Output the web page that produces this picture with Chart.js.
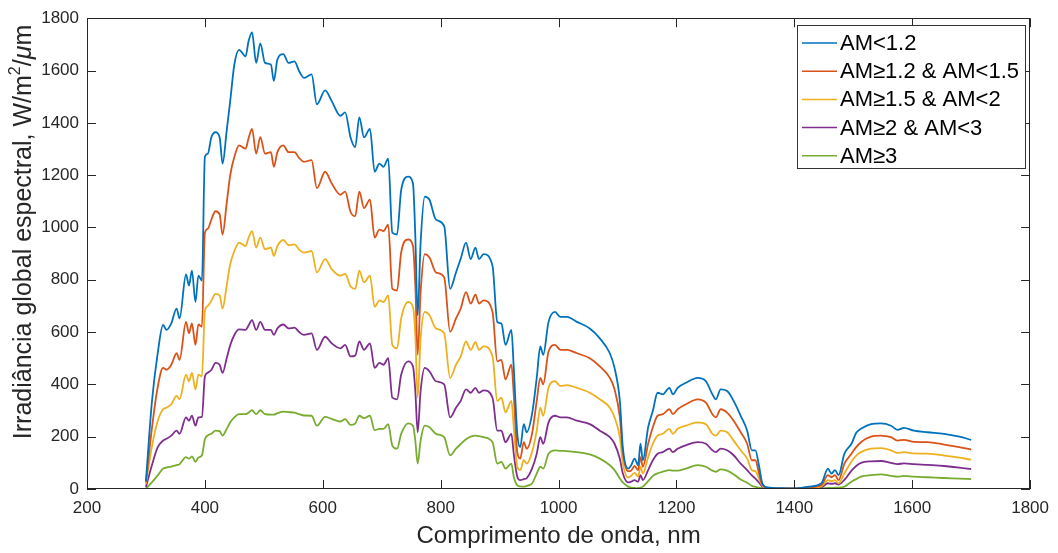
<!DOCTYPE html>
<html>
<head>
<meta charset="utf-8">
<script src="https://cdn.jsdelivr.net/npm/chart.js@4.4.1/dist/chart.umd.min.js"></script>
<style>
    html, body { margin: 0; padding: 0; background: #fff; }
</style>
</head>
<body>
<canvas id="spectrumChart" width="1058" height="553"></canvas>
<script>
const wavelength = [
    300, 310, 320, 329, 335, 343, 352, 357, 368, 373,
    378, 384, 389, 395, 400, 405, 411, 418, 425, 430,
    437, 443, 450, 458, 469, 474, 480, 487, 494, 502,
    512, 517, 523, 533, 542, 552, 560, 568, 581, 590,
    604, 615, 630, 638, 647, 655, 662, 670, 680, 688,
    696, 703, 711, 718, 726, 733, 745, 753, 757, 761,
    766, 773, 781, 792, 806, 816, 826, 834, 843, 851,
    859, 865, 873, 888, 896, 903, 910, 920, 924, 930,
    935, 941, 946, 955, 963, 969, 974, 983, 994, 1003,
    1014, 1031, 1053, 1070, 1087, 1095, 1104, 1109, 1118, 1123,
    1129, 1135, 1139, 1143, 1152, 1160, 1168, 1177, 1188, 1194,
    1202, 1216, 1236, 1250, 1261, 1267, 1275, 1286, 1297, 1309,
    1320, 1328, 1334, 1340, 1346, 1355, 1380, 1400, 1425, 1446,
    1457, 1463, 1469, 1475, 1485, 1497, 1505, 1513, 1530, 1547,
    1564, 1575, 1586, 1603, 1626, 1654, 1680, 1700,
];

const amBelow12 = [
    30, 330, 520, 627, 608, 633, 690, 652, 820, 778,
    835, 715, 816, 797, 1270, 1282, 1345, 1364, 1345, 1244,
    1370, 1484, 1623, 1679, 1654, 1711, 1746, 1629, 1704, 1629,
    1623, 1560, 1642, 1663, 1629, 1635, 1597, 1572, 1585, 1471,
    1524, 1484, 1427, 1440, 1345, 1307, 1421, 1345, 1377, 1213,
    1244, 1232, 1263, 980, 973, 1143, 1194, 1169, 967, 664,
    942, 1118, 1106, 1030, 1005, 765, 828, 880, 942, 879,
    923, 879, 898, 853, 639, 633, 551, 608, 463, 211,
    160, 248, 217, 286, 425, 545, 513, 639, 677, 658,
    658, 639, 614, 576, 519, 463, 337, 160, 78, 90,
    116, 91, 173, 110, 236, 299, 368, 362, 387, 362,
    387, 406, 425, 412, 362, 343, 381, 375, 337, 280,
    223, 148, 148, 90, 20, 6, 3, 2, 9, 22,
    78, 59, 72, 53, 135, 173, 215, 230, 248, 251,
    242, 226, 234, 223, 217, 211, 200, 188,
];

const am12to15 = [
    25, 230, 390, 463, 456, 475, 519, 494, 639, 595,
    633, 551, 629, 620, 980, 995, 1030, 1062, 1050, 973,
    1093, 1200, 1270, 1314, 1301, 1340, 1377, 1282, 1345, 1282,
    1288, 1232, 1288, 1314, 1288, 1288, 1265, 1251, 1257, 1150,
    1213, 1169, 1125, 1137, 1060, 1043, 1137, 1074, 1106, 961,
    992, 986, 1011, 765, 759, 904, 954, 929, 778, 513,
    753, 898, 885, 828, 809, 601, 652, 690, 753, 709,
    743, 709, 721, 677, 488, 494, 419, 475, 362, 141,
    116, 179, 154, 211, 337, 425, 400, 526, 551, 532,
    532, 519, 500, 469, 425, 381, 274, 140, 68, 70,
    88, 72, 122, 85, 173, 236, 280, 286, 305, 286,
    305, 324, 343, 330, 286, 274, 305, 292, 261, 217,
    173, 110, 110, 60, 15, 4, 2, 2, 6, 15,
    53, 45, 53, 34, 97, 135, 160, 179, 200, 204,
    198, 185, 188, 180, 179, 170, 160, 151,
];

const am15to2 = [
    20, 160, 260, 305, 311, 324, 356, 343, 437, 412,
    444, 381, 437, 431, 680, 700, 720, 746, 740, 690,
    778, 860, 910, 942, 929, 960, 986, 923, 961, 917,
    923, 891, 929, 952, 932, 935, 915, 904, 910, 828,
    879, 841, 816, 822, 775, 765, 835, 790, 816, 696,
    721, 715, 740, 551, 538, 652, 715, 696, 589, 349,
    576, 677, 664, 614, 595, 425, 475, 507, 564, 532,
    561, 532, 545, 507, 337, 349, 293, 337, 236, 85,
    72, 110, 97, 141, 223, 311, 280, 387, 412, 394,
    397, 387, 368, 343, 311, 274, 198, 100, 44, 50,
    62, 47, 85, 59, 122, 173, 204, 211, 230, 211,
    230, 242, 255, 248, 211, 204, 223, 217, 185, 148,
    116, 72, 68, 40, 12, 3, 1, 1, 4, 10,
    34, 30, 34, 22, 60, 105, 128, 141, 154, 156,
    148, 138, 141, 136, 135, 128, 120, 112,
];

const am2to3 = [
    8, 90, 160, 185, 192, 204, 223, 211, 274, 261,
    280, 242, 274, 276, 430, 445, 455, 482, 475, 444,
    500, 550, 589, 610, 608, 625, 646, 608, 639, 608,
    608, 589, 614, 629, 614, 617, 600, 589, 595, 532,
    582, 557, 538, 551, 507, 510, 564, 532, 557, 463,
    482, 475, 500, 349, 343, 437, 488, 469, 375, 217,
    375, 463, 450, 412, 400, 274, 311, 337, 381, 368,
    387, 368, 377, 349, 223, 223, 179, 211, 135, 47,
    34, 38, 42, 78, 135, 198, 173, 255, 280, 274,
    274, 261, 248, 223, 198, 173, 116, 60, 25, 28,
    34, 28, 53, 34, 72, 110, 135, 141, 154, 141,
    154, 167, 179, 173, 148, 141, 154, 148, 129, 97,
    72, 52, 40, 25, 8, 2, 1, 1, 3, 6,
    22, 20, 22, 17, 35, 70, 88, 100, 106, 107,
    100, 95, 98, 95, 92, 88, 82, 76,
];

const amAbove3 = [
    2, 25, 52, 78, 82, 86, 91, 95, 122, 116,
    125, 104, 120, 129, 190, 205, 211, 223, 221, 204,
    230, 255, 274, 286, 286, 292, 301, 286, 301, 286,
    284, 284, 290, 296, 294, 292, 286, 281, 280, 242,
    276, 268, 258, 267, 245, 250, 280, 271, 280, 225,
    230, 230, 248, 166, 154, 211, 251, 242, 185, 97,
    185, 242, 236, 211, 198, 129, 154, 172, 190, 200,
    204, 202, 198, 179, 97, 104, 78, 97, 47, 14,
    10, 9, 12, 21, 59, 85, 78, 135, 148, 146,
    145, 141, 132, 116, 91, 72, 40, 25, 9, 5,
    4, 3, 5, 9, 30, 50, 60, 66, 72, 70,
    70, 78, 91, 85, 70, 66, 75, 70, 56, 36,
    24, 12, 8, 5, 2, 1, 0, 0, 1, 2,
    4, 4, 5, 5, 9, 28, 38, 47, 53, 56,
    50, 47, 50, 47, 45, 42, 40, 38,
];

const seriesLabels = ['AM<1.2', 'AM\u22651.2 & AM<1.5', 'AM\u22651.5 & AM<2', 'AM\u22652 & AM<3', 'AM\u22653'];
const seriesColors = ['#0072BD', '#D95319', '#EDB120', '#7E2F8E', '#77AC30'];
const seriesValues = [amBelow12, am12to15, am15to2, am2to3, amAbove3];

const xTickValues = [200, 400, 600, 800, 1000, 1200, 1400, 1600, 1800];
const yTickValues = [0, 200, 400, 600, 800, 1000, 1200, 1400, 1600, 1800];

const fontFamily = "'Liberation Sans', Arial, Helvetica, sans-serif";
const axisColor = '#262626';

// inward ticks + closed box, like the original figure
const axisBox = {
    id: 'axisBox',
    afterDatasetsDraw(chart) {
        const { ctx, chartArea: area, scales: { x, y } } = chart;
        const tick = 9;

        ctx.save();
        ctx.strokeStyle = axisColor;
        ctx.lineWidth = 1;
        ctx.beginPath();
        x.ticks.forEach((t) => {
            const px = Math.round(x.getPixelForValue(t.value)) + 0.5;
            ctx.moveTo(px, area.bottom);
            ctx.lineTo(px, area.bottom - tick);
            ctx.moveTo(px, area.top);
            ctx.lineTo(px, area.top + tick);
        });
        y.ticks.forEach((t) => {
            const py = Math.round(y.getPixelForValue(t.value)) + 0.5;
            ctx.moveTo(area.left, py);
            ctx.lineTo(area.left + tick, py);
            ctx.moveTo(area.right, py);
            ctx.lineTo(area.right - tick, py);
        });
        ctx.stroke();
        ctx.strokeRect(Math.round(area.left) + 0.5, Math.round(area.top) + 0.5,
            Math.round(area.right - area.left) - 1, Math.round(area.bottom - area.top) - 1);
        ctx.restore();
    },
};

// y title with superscript and italic mu
const yTitle = {
    id: 'yTitle',
    afterDraw(chart) {
        const { ctx } = chart;
        const base = `25px ${fontFamily}`;
        const parts = [
            { text: 'Irradi\u00e2ncia global espectral, W/m', font: base, dy: 0 },
            { text: '2', font: `16px ${fontFamily}`, dy: -8 },
            { text: '/', font: base, dy: 0 },
            { text: '\u03bc', font: `italic 25px ${fontFamily}`, dy: 0 },
            { text: 'm', font: base, dy: 0 },
        ];

        ctx.save();
        ctx.translate(24, 232);
        ctx.rotate(-Math.PI / 2);
        ctx.fillStyle = axisColor;
        ctx.textBaseline = 'middle';
        ctx.textAlign = 'left';

        let total = 0;
        parts.forEach((p) => {
            ctx.font = p.font;
            p.w = ctx.measureText(p.text).width;
            total += p.w;
        });

        let cx = -total / 2;
        parts.forEach((p) => {
            ctx.font = p.font;
            ctx.fillText(p.text, cx, p.dy);
            cx += p.w;
        });
        ctx.restore();
    },
};

const boxLegend = {
    id: 'boxLegend',
    afterDraw(chart) {
        const { ctx } = chart;
        const left = 797;
        const top = 25;
        const width = 228;
        const height = 143;

        ctx.save();
        ctx.fillStyle = '#fff';
        ctx.fillRect(left, top, width, height);
        ctx.strokeStyle = '#333';
        ctx.lineWidth = 1;
        ctx.strokeRect(left + 0.5, top + 0.5, width, height);

        ctx.font = `22px ${fontFamily}`;
        ctx.textBaseline = 'middle';
        chart.data.datasets.forEach((ds, i) => {
            const rowY = 43 + i * 28.2;
            ctx.strokeStyle = ds.borderColor;
            ctx.lineWidth = 1.5;
            ctx.beginPath();
            ctx.moveTo(802, rowY);
            ctx.lineTo(837, rowY);
            ctx.stroke();
            ctx.fillStyle = '#000';
            ctx.fillText(ds.label, 840, rowY + 1);
        });
        ctx.restore();
    },
};

new Chart(document.getElementById('spectrumChart'), {
    type: 'line',
    data: {
        datasets: seriesValues.map((values, i) => ({
            label: seriesLabels[i],
            data: wavelength.map((w, j) => ({ x: w, y: values[j] })),
            borderColor: seriesColors[i],
            backgroundColor: seriesColors[i],
            borderWidth: 1.8,
            pointRadius: 0,
            cubicInterpolationMode: 'monotone',
            fill: false,
        })),
    },
    options: {
        responsive: false,
        animation: false,
        devicePixelRatio: 1,
        layout: { padding: { top: 13, right: 22, left: 0, bottom: 0 } },
        plugins: {
            legend: { display: false },
            tooltip: { enabled: false },
        },
        scales: {
            x: {
                type: 'linear',
                min: 200,
                max: 1800,
                afterBuildTicks: (scale) => { scale.ticks = xTickValues.map((v) => ({ value: v })); },
                afterFit: (scale) => { scale.height = 64; },
                grid: { display: false, drawTicks: false },
                border: { display: false },
                ticks: {
                    color: axisColor,
                    padding: 9,
                    maxRotation: 0,
                    autoSkip: false,
                    font: { family: fontFamily, size: 17 },
                    callback: (value) => `${value}`,
                },
                title: {
                    display: true,
                    text: 'Comprimento de onda, nm',
                    color: axisColor,
                    font: { family: fontFamily, size: 24 },
                    padding: { top: 0, bottom: 2 },
                },
            },
            y: {
                min: 0,
                max: 1800,
                afterBuildTicks: (scale) => { scale.ticks = yTickValues.map((v) => ({ value: v })); },
                afterFit: (scale) => { scale.width = 87; },
                grid: { display: false, drawTicks: false },
                border: { display: false },
                ticks: {
                    color: axisColor,
                    padding: 8,
                    autoSkip: false,
                    font: { family: fontFamily, size: 17 },
                    callback: (value) => `${value}`,
                },
            },
        },
    },
    plugins: [axisBox, yTitle, boxLegend],
});
</script>
</body>
</html>
